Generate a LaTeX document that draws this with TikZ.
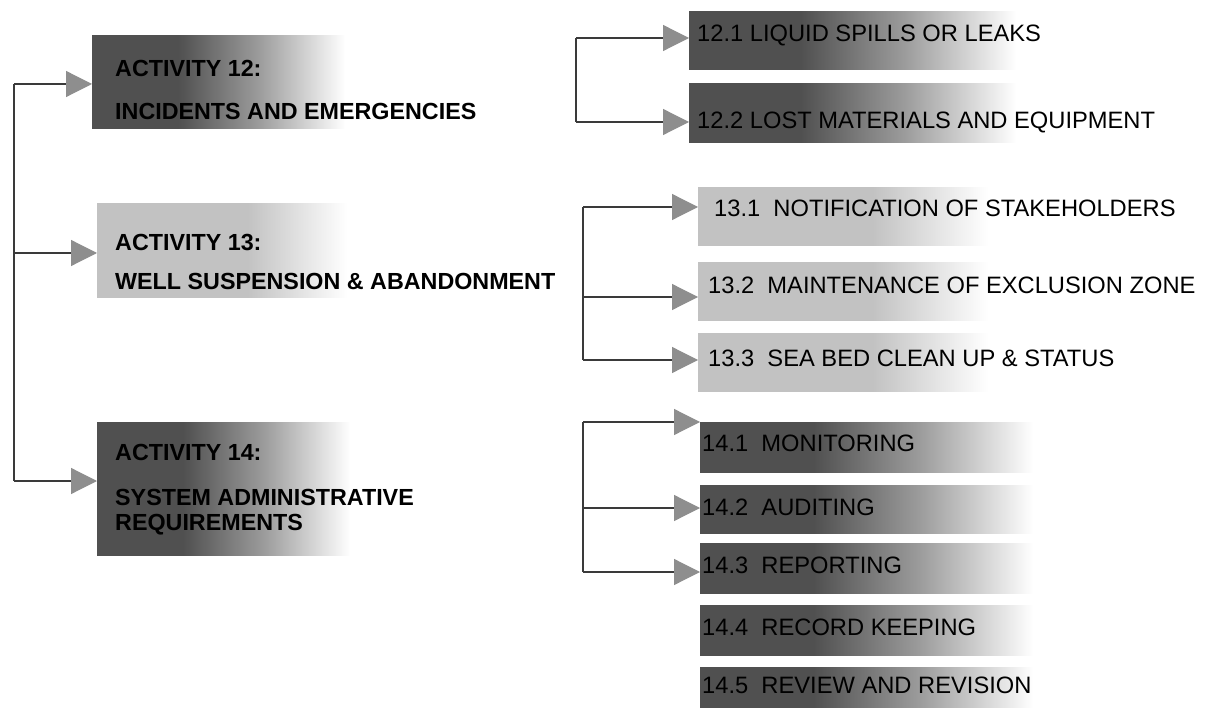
\documentclass[tikz,border=0pt]{standalone}
\usepackage{fontspec}
\setmainfont{Liberation Sans}
\usetikzlibrary{arrows.meta}
\definecolor{dk}{HTML}{505050}
\definecolor{dkmid}{HTML}{9C9C9C}
\definecolor{lt}{HTML}{C2C2C2}
\definecolor{linec}{HTML}{3A3A3A}
\definecolor{agray}{HTML}{8E8E8E}
\pgfdeclarehorizontalshading{darkfade}{100bp}{color(0bp)=(dk); color(25bp)=(dk); color(42bp)=(dk); color(58bp)=(dkmid); color(75bp)=(white); color(100bp)=(white)}
\pgfdeclarehorizontalshading{lightfade}{100bp}{color(0bp)=(lt); color(25bp)=(lt); color(55bp)=(lt); color(75bp)=(white); color(100bp)=(white)}
\tikzset{
  conn/.style={draw=linec, line width=1.2pt},
  arr/.style={conn, -{Triangle[length=26pt,width=26pt,color=agray]}},
  box/.style={anchor=north west, inner sep=0pt, draw=none},
  dbox/.style={box, shading=darkfade},
  lbox/.style={box, shading=lightfade},
  lbl/.style={anchor=west, inner sep=0pt, text height=16.8pt, text depth=0pt, font=\fontsize{23.7}{26}\selectfont},
  blbl/.style={anchor=west, inner sep=0pt, text height=16.8pt, text depth=0pt, font=\fontsize{23.3}{26}\selectfont\bfseries},
}
\begin{document}
\begin{tikzpicture}[x=1pt,y=-1pt]
\useasboundingbox (0,0) rectangle (1212,708);

% activity boxes
\node[dbox, minimum width=253pt, minimum height=93pt] (A12) at (92,35) {};
\node[lbox, minimum width=250pt, minimum height=94pt] (A13) at (97,203) {};
\node[dbox, minimum width=253pt, minimum height=133pt] (A14) at (97,422) {};

% sub boxes group 12
\node[dbox, minimum width=327pt, minimum height=58pt] (B121) at (689,11) {};
\node[dbox, minimum width=327pt, minimum height=59pt] (B122) at (689,83) {};
% group 13
\node[lbox, minimum width=290pt, minimum height=58pt] (B131) at (698,187) {};
\node[lbox, minimum width=290pt, minimum height=58pt] (B132) at (698,262) {};
\node[lbox, minimum width=290pt, minimum height=58pt] (B133) at (698,333) {};
% group 14
\node[dbox, minimum width=333pt, minimum height=50pt] (B141) at (700,422) {};
\node[dbox, minimum width=333pt, minimum height=48pt] (B142) at (700,485) {};
\node[dbox, minimum width=333pt, minimum height=50pt] (B143) at (700,543) {};
\node[dbox, minimum width=333pt, minimum height=50pt] (B144) at (700,605) {};
\node[dbox, minimum width=333pt, minimum height=41pt] (B145) at (700,667) {};

% texts
\node[blbl] (t12a) at (115,68) {ACTIVITY 12:};
\node[blbl] (t12b) at (115,111) {INCIDENTS AND EMERGENCIES};
\node[blbl] (t13a) at (115,242) {ACTIVITY 13:};
\node[blbl] (t13b) at (115,281) {WELL SUSPENSION \& ABANDONMENT};
\node[blbl] (t14a) at (115,452) {ACTIVITY 14:};
\node[blbl] (t14b) at (115,497) {SYSTEM ADMINISTRATIVE};
\node[blbl] (t14c) at (115,522) {REQUIREMENTS};

\node[lbl] (s121) at (697,33) {12.1 LIQUID SPILLS OR LEAKS};
\node[lbl] (s122) at (697,120) {12.2 LOST MATERIALS AND EQUIPMENT};
\node[lbl] (s131) at (714,208) {13.1\ \ NOTIFICATION OF STAKEHOLDERS};
\node[lbl] (s132) at (708,285) {13.2\ \ MAINTENANCE OF EXCLUSION ZONE};
\node[lbl] (s133) at (708,358) {13.3\ \ SEA BED CLEAN UP \& STATUS};
\node[lbl] (s141) at (702,443) {14.1\ \ MONITORING};
\node[lbl] (s142) at (702,507) {14.2\ \ AUDITING};
\node[lbl] (s143) at (702,565) {14.3\ \ REPORTING};
\node[lbl] (s144) at (702,627) {14.4\ \ RECORD KEEPING};
\node[lbl] (s145) at (702,685) {14.5\ \ REVIEW AND REVISION};

% junction coordinates
\coordinate (L12) at (14,84);
\coordinate (L13) at (14,253);
\coordinate (L14) at (14,481);
\coordinate (R121) at (576,38);
\coordinate (R122) at (576,122);
\coordinate (R131) at (583,207);
\coordinate (R132) at (583,297);
\coordinate (R133) at (583,360);
\coordinate (R141) at (583,422);
\coordinate (R142) at (583,508);
\coordinate (R143) at (583,572);

% trunks
\draw[conn] (L12) -- (L14);
\draw[conn] (R121) -- (R122);
\draw[conn] (R131) -- (R133);
\draw[conn] (R141) -- (R143);

% arrows
\draw[arr] (L12) -- (L12 -| A12.west);
\draw[arr] (L13) -- (L13 -| A13.west);
\draw[arr] (L14) -- (L14 -| A14.west);
\draw[arr] (R121) -- (R121 -| B121.west);
\draw[arr] (R122) -- (R122 -| B122.west);
\draw[arr] (R131) -- (R131 -| B131.west);
\draw[arr] (R132) -- (R132 -| B132.west);
\draw[arr] (R133) -- (R133 -| B133.west);
\draw[arr] (R141) -- (R141 -| B141.west);
\draw[arr] (R142) -- (R142 -| B142.west);
\draw[arr] (R143) -- (R143 -| B143.west);
\end{tikzpicture}
\end{document}
